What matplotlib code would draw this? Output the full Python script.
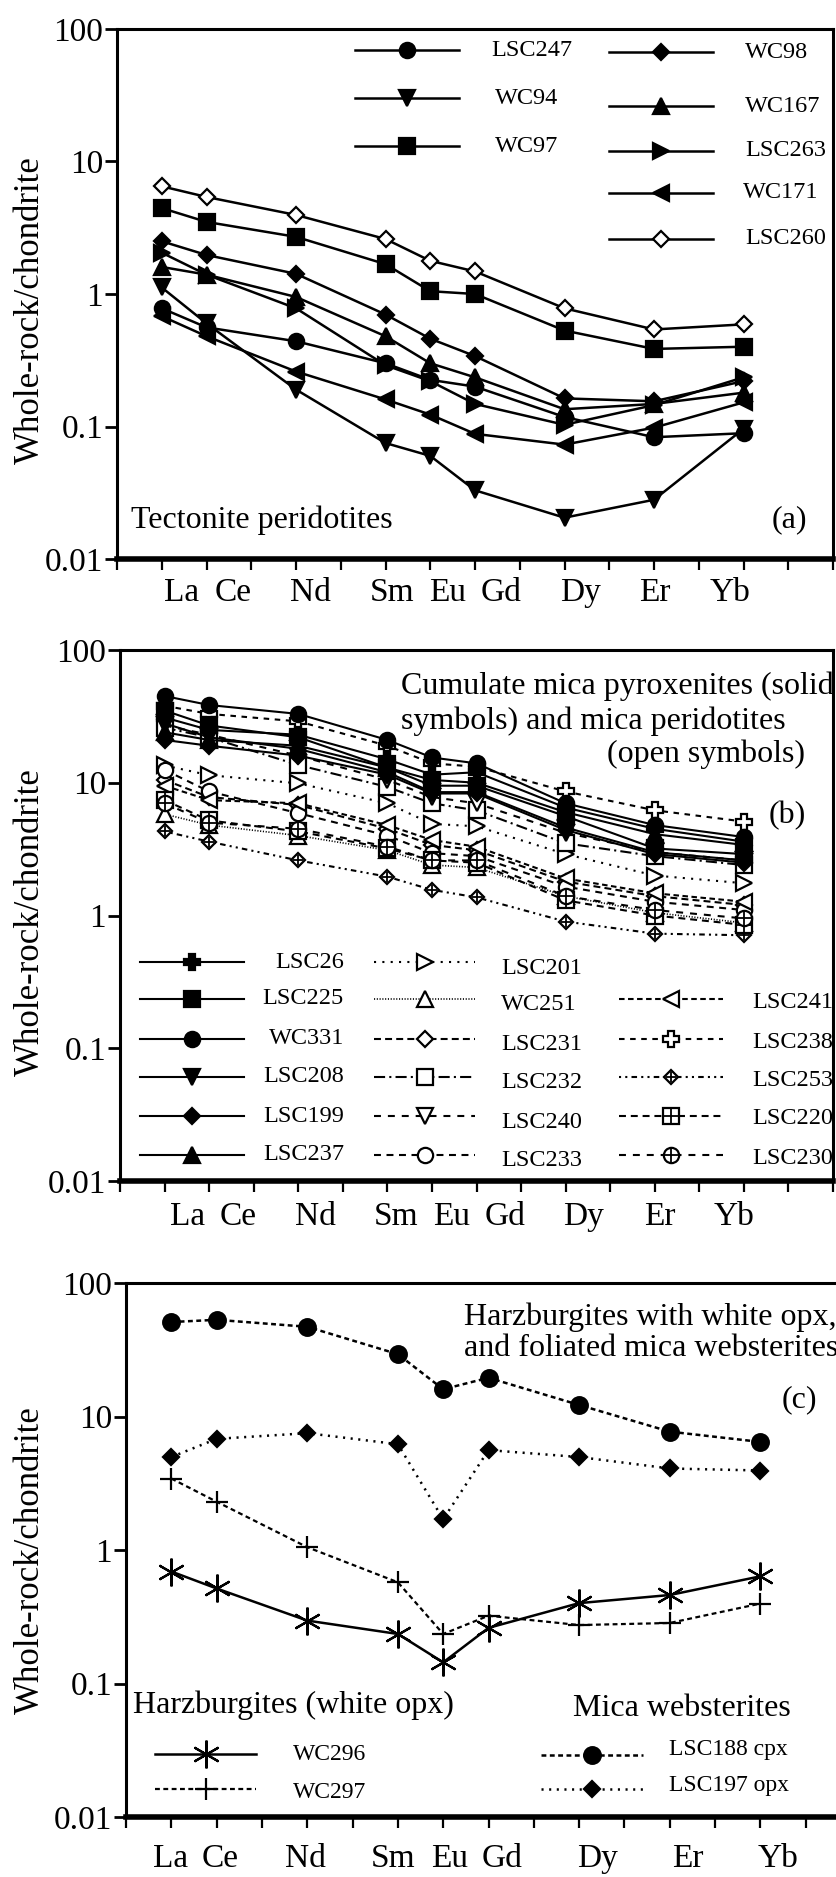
import numpy as np
import matplotlib.pyplot as plt
from matplotlib.transforms import Affine2D

plt.rcParams['font.family'] = ['Liberation Serif', 'DejaVu Serif']
plt.rcParams['lines.scale_dashes'] = False

W, H = 836, 1877

# REE on the x axis: La=1 ... Lu=15, only measured elements are plotted
ree = ['La', 'Ce', 'Nd', 'Sm', 'Eu', 'Gd', 'Dy', 'Er', 'Yb']
ree_x = [1, 2, 4, 6, 7, 8, 10, 12, 14]
yticks = [0.01, 0.1, 1, 10, 100]
ytick_labels = ['0.01', '0.1', '1', '10', '100']

# (a) tectonite peridotites
a_LSC247 = [0.78, 0.56, 0.44, 0.30, 0.225, 0.20, 0.118, 0.083, 0.089]
a_WC94 = [1.12, 0.60, 0.19, 0.075, 0.060, 0.033, 0.0205, 0.028, 0.096]
a_WC97 = [4.45, 3.5, 2.7, 1.68, 1.05, 1.0, 0.53, 0.385, 0.40]
a_WC98 = [2.5, 1.97, 1.42, 0.70, 0.46, 0.34, 0.163, 0.155, 0.22]
a_WC167 = [1.6, 1.40, 0.95, 0.48, 0.30, 0.235, 0.135, 0.148, 0.18]
a_LSC263 = [2.05, 1.40, 0.78, 0.29, 0.22, 0.148, 0.103, 0.145, 0.235]
a_WC171 = [0.68, 0.48, 0.26, 0.16, 0.123, 0.088, 0.073, 0.098, 0.152]
a_LSC260 = [6.5, 5.4, 3.95, 2.6, 1.78, 1.48, 0.78, 0.54, 0.59]

# (b) cumulate mica pyroxenites (solid) and mica peridotites (open)
b_LSC26 = [31, 25, 23, 15, 11.5, 12, 6.5, 4.5, 3.6]
b_LSC225 = [35, 27, 22, 13, 9.5, 9.5, 5.6, 3.2, 2.9]
b_WC331 = [45, 38.5, 33, 21, 15.5, 14, 7.0, 4.8, 3.9]
b_LSC208 = [28, 22, 18, 12, 8.5, 8.5, 4.6, 3.0, 2.6]
b_LSC199 = [21, 19, 16, 11.5, 8.3, 8.3, 4.4, 2.9, 2.5]
b_LSC237 = [24, 21, 19, 13, 10.5, 10, 6.0, 4.1, 3.4]
b_LSC201 = [13.5, 11.4, 9.9, 7.0, 4.9, 4.7, 2.9, 2.0, 1.75]
b_WC251 = [5.8, 4.8, 4.0, 3.1, 2.4, 2.3, 1.4, 1.05, 0.88]
b_LSC231 = [10.5, 7.8, 6.8, 4.5, 3.4, 3.1, 1.8, 1.4, 1.2]
b_LSC232 = [26, 22, 13.6, 9.3, 7.0, 6.2, 3.5, 2.8, 2.4]
b_LSC240 = [27, 23, 16, 10.5, 7.8, 7.0, 4.2, 3.0, 2.6]
b_LSC233 = [12.5, 8.6, 5.9, 4.0, 2.95, 2.8, 1.65, 1.27, 1.1]
b_LSC241 = [9.5, 7.4, 7.0, 4.8, 3.7, 3.3, 1.9, 1.47, 1.27]
b_LSC238 = [38, 33, 29, 19, 14, 13.2, 8.6, 6.2, 5.1]
b_LSC253 = [4.3, 3.6, 2.6, 1.96, 1.56, 1.37, 0.90, 0.73, 0.71]
b_LSC220 = [7.4, 5.2, 4.3, 3.2, 2.6, 2.5, 1.3, 1.0, 0.85]
b_LSC230 = [7.0, 5.0, 4.5, 3.3, 2.6, 2.6, 1.4, 1.1, 0.95]

# (c) harzburgites with white opx and foliated mica websterites
c_WC296 = [0.69, 0.515, 0.296, 0.235, 0.144, 0.261, 0.40, 0.46, 0.635]
c_WC297 = [3.43, 2.30, 1.05, 0.573, 0.235, 0.322, 0.274, 0.284, 0.397]
c_LSC188 = [51, 53, 47, 29.3, 16.0, 19.5, 12.2, 7.7, 6.45]
c_LSC197 = [4.97, 6.8, 7.5, 6.2, 1.70, 5.6, 4.97, 4.08, 3.94]

# where the element names sit under each panel (x in data units)
a_label_x = [1.44, 2.59, 4.32, 6.15, 7.38, 8.59, 10.35, 12.02, 13.71]
b_label_x = [1.51, 2.66, 4.39, 6.19, 7.44, 8.64, 10.41, 12.11, 13.79]
c_label_x = [0.99, 2.07, 3.95, 5.9, 7.13, 8.31, 10.4, 12.4, 14.4]

fig = plt.figure(figsize=(W / 100, H / 100), dpi=100)
pix = Affine2D().scale(1 / W, -1 / H).translate(0, 1) + fig.transFigure


def style(ls='-', m='o', filled=True, ms=11, extra=None, lw=1.8):
    return dict(ls=ls, m=m, filled=filled, ms=ms, extra=extra, lw=lw)


def draw(ax, x, y, st, transform=None, line=True):
    kw = {} if transform is None else dict(transform=transform, clip_on=False)
    fc = 'black' if st['filled'] else 'white'
    ax.plot(x, y, color='black', lw=st['lw'] if line else 0,
            linestyle=st['ls'], marker=st['m'], ms=st['ms'],
            mfc=fc, mec='black', mew=1.6, **kw)
    if st['extra'] and st['m']:
        ax.plot(x, y, lw=0, marker='+', ms=st['ms'] * 0.95,
                color='black', mew=1.3, **kw)


def legend_row(ax, x0, x1, y, st, label, lx, ly, ha='left', size=17.5):
    draw(ax, [x0, x1], [y, y], dict(st, m=None), transform=pix)
    draw(ax, [(x0 + x1) / 2], [y], st, transform=pix, line=False)
    fig.text(lx / W, 1 - ly / H, label, ha=ha, va='center', fontsize=size)


def make_panel(box, label_x, label_off, ylab_y):
    left, top, right, bottom = box
    ax = fig.add_axes([left / W, 1 - bottom / H, (right - left) / W,
                       (bottom - top) / H])
    ax.set_yscale('log')
    ax.set_ylim(0.01, 100)
    ax.set_xlim(0, 16)
    ax.set_yticks(yticks)
    ax.set_yticklabels(ytick_labels)
    ax.minorticks_off()
    ax.set_xticks(range(0, 17))
    ax.set_xticklabels([])
    ax.tick_params(axis='y', direction='out', length=9, width=2, pad=1,
                   labelsize=24)
    ax.tick_params(axis='x', direction='out', length=8, width=1.6)
    for s in ['top', 'left', 'right']:
        ax.spines[s].set_linewidth(2.2)
    ax.spines['bottom'].set_linewidth(4)
    for name, xp in zip(ree, label_x):
        ax.annotate(name, xy=(xp, 0), xycoords=('data', 'axes fraction'),
                    xytext=(0, -label_off), textcoords='offset points',
                    ha='center', va='center', fontsize=24)
    fig.text(30 / W, 1 - ylab_y / H, 'Whole-rock/chondrite',
             rotation=90, ha='center', va='center', fontsize=25)
    return ax


# ---- (a) ----
ax_a = make_panel((117, 29, 833, 559), a_label_x, 24.5, 310)
a_series = [
    ('LSC247', a_LSC247, style(m='o', ms=11)),
    ('WC94', a_WC94, style(m='v', ms=12)),
    ('WC97', a_WC97, style(m='s', ms=12)),
    ('WC98', a_WC98, style(m='D', ms=8.5)),
    ('WC167', a_WC167, style(m='^', ms=12)),
    ('LSC263', a_LSC263, style(m='>', ms=12)),
    ('WC171', a_WC171, style(m='<', ms=12)),
    ('LSC260', a_LSC260, style(m='D', ms=8.5, filled=False)),
]
for name, vals, st in a_series:
    draw(ax_a, ree_x, vals, st)

a_rows = [(355, 459, 50, 491), (355, 459, 98, 495), (355, 459, 146, 495),
          (609, 713, 52, 745), (609, 713, 106, 745), (609, 713, 151, 745),
          (609, 713, 193, 743), (609, 713, 239, 745)]
for (name, vals, st), (x0, x1, y, lx) in zip(a_series, a_rows):
    legend_row(ax_a, x0, x1, y, st, name, lx, y)

fig.text(131 / W, 1 - 520 / H, 'Tectonite peridotites', fontsize=23,
         va='center')
fig.text(789 / W, 1 - 520 / H, '(a)', fontsize=23, ha='center', va='center')

# ---- (b) ----
ax_b = make_panel((120, 650, 833, 1181), b_label_x, 26, 922)
b_solid = [
    ('LSC26', b_LSC26, style(m='P', ms=11, lw=1.5)),
    ('LSC225', b_LSC225, style(m='s', ms=11, lw=1.5)),
    ('WC331', b_WC331, style(m='o', ms=11, lw=1.5)),
    ('LSC208', b_LSC208, style(m='v', ms=11, lw=1.5)),
    ('LSC199', b_LSC199, style(m='D', ms=8, lw=1.5)),
    ('LSC237', b_LSC237, style(m='^', ms=11, lw=1.5)),
]
b_open_mid = [
    ('LSC201', b_LSC201, style(ls=(0, (1.5, 4.5)), m='>', ms=11, filled=False, lw=1.5)),
    ('WC251', b_WC251, style(ls=(0, (0.8, 1.2)), m='^', ms=11, filled=False, lw=1.2)),
    ('LSC231', b_LSC231, style(ls=(0, (5, 3)), m='D', ms=8, filled=False, lw=1.5)),
    ('LSC232', b_LSC232, style(ls=(0, (8, 3, 1.5, 3)), m='s', ms=12, filled=False, lw=1.5)),
    ('LSC240', b_LSC240, style(ls=(0, (5, 5)), m='v', ms=11, filled=False, lw=1.5)),
    ('LSC233', b_LSC233, style(ls=(0, (5, 4)), m='o', ms=11, filled=False, lw=1.5)),
]
b_open_right = [
    ('LSC241', b_LSC241, style(ls=(0, (4, 2.5)), m='<', ms=11, filled=False, lw=1.5)),
    ('LSC238', b_LSC238, style(ls=(0, (4, 4)), m='P', ms=12, filled=False, lw=1.5)),
    ('LSC253', b_LSC253, style(ls=(0, (1.5, 3, 1.5, 3, 4, 3)), m='D', ms=7.5,
                               filled=False, extra='+', lw=1.5)),
    ('LSC220', b_LSC220, style(ls=(0, (5, 3.5)), m='s', ms=12, filled=False,
                               extra='+', lw=1.5)),
    ('LSC230', b_LSC230, style(ls=(0, (5, 5)), m='o', ms=11, filled=False,
                               extra='+', lw=1.5)),
]
for name, vals, st in b_open_mid + b_open_right + b_solid:
    draw(ax_b, ree_x, vals, st)

rows_b = [962, 999, 1039, 1077, 1116, 1155]
for (name, vals, st), y in zip(b_solid, rows_b):
    legend_row(ax_b, 140, 244, y, st, name, 344, y, ha='right')
for (name, vals, st), y in zip(b_open_mid, rows_b):
    legend_row(ax_b, 374, 475, y, st, name, 501, y + 6)
for (name, vals, st), y in zip(b_open_right, rows_b[1:]):
    legend_row(ax_b, 619, 723, y, st, name, 752, y + 3)

fig.text(401 / W, 1 - 686 / H, 'Cumulate mica pyroxenites (solid',
         fontsize=23, va='center')
fig.text(401 / W, 1 - 721 / H, 'symbols) and mica peridotites',
         fontsize=23, va='center')
fig.text(805 / W, 1 - 754 / H, '(open symbols)', fontsize=23,
         ha='right', va='center')
fig.text(787 / W, 1 - 816 / H, '(b)', fontsize=23, ha='center', va='center')

# ---- (c) ----
ax_c = make_panel((126, 1283, 851, 1817), c_label_x, 30, 1560)
c_series = [
    ('WC296', c_WC296, style(m=(6, 2, 0), ms=20, lw=1.8)),
    ('WC297', c_WC297, style(ls=(0, (3.5, 2.5)), m='+', ms=16, lw=1.6)),
    ('LSC188 cpx', c_LSC188, style(ls=(0, (3.5, 2.5)), m='o', ms=12, lw=1.8)),
    ('LSC197 opx', c_LSC197, style(ls=(0, (1.5, 4)), m='D', ms=8.5, lw=1.8)),
]
for name, vals, st in c_series:
    draw(ax_c, ree_x, vals, st)

c_rows = [(155, 256, 1754, 293, 1754), (155, 256, 1789, 293, 1793),
          (541, 643, 1755, 669, 1749), (541, 643, 1789, 669, 1785)]
for (name, vals, st), (x0, x1, y, lx, ly) in zip(c_series, c_rows):
    legend_row(ax_c, x0, x1, y, st, name, lx, ly, size=17)

fig.text(133 / W, 1 - 1705 / H, 'Harzburgites (white opx)', fontsize=23,
         va='center')
fig.text(573 / W, 1 - 1709 / H, 'Mica websterites', fontsize=23, va='center')
fig.text(464 / W, 1 - 1317 / H, 'Harzburgites with white opx,', fontsize=23,
         va='center')
fig.text(464 / W, 1 - 1349 / H, 'and foliated mica websterites', fontsize=23,
         va='center')
fig.text(799 / W, 1 - 1400 / H, '(c)', fontsize=23, ha='center', va='center')

fig.savefig('out.png', dpi=100)
